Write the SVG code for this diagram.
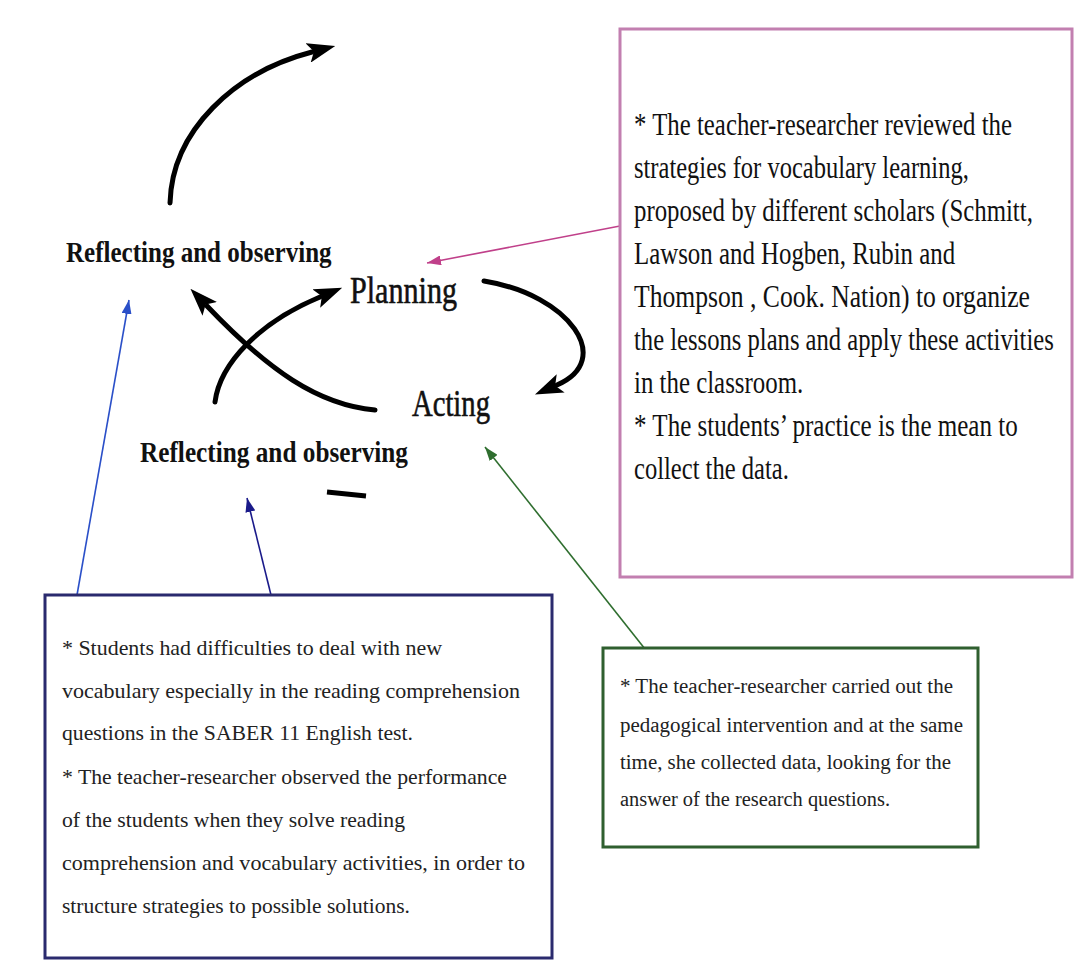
<svg xmlns="http://www.w3.org/2000/svg" width="1074" height="968" viewBox="0 0 1074 968">
<style>
.lbl{font-family:"Liberation Serif","Times New Roman",serif;fill:#111;}
.rb{font-size:30px;font-weight:bold;}
.big{font-size:38px;stroke:#111;stroke-width:0.6;}
.pt{font-family:"Liberation Serif","Times New Roman",serif;font-size:31px;fill:#111;}
.bt{font-family:"Liberation Serif","Times New Roman",serif;font-size:21px;fill:#222;}
.gt{font-family:"Liberation Serif","Times New Roman",serif;font-size:20px;fill:#222;}
.thick{fill:none;stroke:#000;stroke-width:5;stroke-linecap:round;}
.thin{fill:none;stroke-width:1.6;}
</style>
<defs>
<marker id="ah" markerUnits="userSpaceOnUse" viewBox="0 0 28 20" markerWidth="28" markerHeight="20" refX="4" refY="10" orient="auto"><path d="M0,0 L28,10 L0,20 L6,10 z" fill="#000"/></marker>
<marker id="pk" markerUnits="userSpaceOnUse" viewBox="0 0 14 10" markerWidth="14" markerHeight="10" refX="14" refY="5" orient="auto"><path d="M0,0 L14,5 L0,10 z" fill="#c0408a"/></marker>
<marker id="bl" markerUnits="userSpaceOnUse" viewBox="0 0 14 10" markerWidth="14" markerHeight="10" refX="14" refY="5" orient="auto"><path d="M0,0 L14,5 L0,10 z" fill="#2a4fc8"/></marker>
<marker id="nv" markerUnits="userSpaceOnUse" viewBox="0 0 14 10" markerWidth="14" markerHeight="10" refX="14" refY="5" orient="auto"><path d="M0,0 L14,5 L0,10 z" fill="#1a1a8a"/></marker>
<marker id="gr" markerUnits="userSpaceOnUse" viewBox="0 0 14 10" markerWidth="14" markerHeight="10" refX="14" refY="5" orient="auto"><path d="M0,0 L14,5 L0,10 z" fill="#2f6e2f"/></marker>
</defs>
<rect width="1074" height="968" fill="#fff"/>

<g id="connectors">
<path class="thick" d="M170,203 C172,130 235,72 312,52" marker-end="url(#ah)"/>
<path class="thick" d="M484,281 C570,295 615,360 557,385" marker-end="url(#ah)"/>
<path class="thick" d="M215,402 C220,363 260,322 320,297" marker-end="url(#ah)"/>
<path class="thick" d="M375,410 C318,405 268,370 207,306" marker-end="url(#ah)"/>
<path d="M327,492 L366,496" fill="none" stroke="#000" stroke-width="5"/>
<path class="thin" stroke="#c0408a" d="M620,226 L427,263" marker-end="url(#pk)"/>
<path class="thin" stroke="#2a4fc8" d="M77,595 L129,300" marker-end="url(#bl)"/>
<path class="thin" stroke="#1a1a8a" d="M271,595 L247,498" marker-end="url(#nv)"/>
<path class="thin" stroke="#2f6e2f" d="M645,649 L485,447" marker-end="url(#gr)"/>
</g>

<g id="label-reflect-top"><g transform="translate(66 0) scale(0.8 1)"><text class="lbl rb" x="0" y="262" textLength="332" lengthAdjust="spacingAndGlyphs">Reflecting and observing</text></g></g>
<g id="label-planning"><text class="lbl big" x="350" y="303" textLength="107" lengthAdjust="spacingAndGlyphs">Planning</text></g>
<g id="label-acting"><text class="lbl big" x="412" y="416" textLength="78" lengthAdjust="spacingAndGlyphs">Acting</text></g>
<g id="label-reflect-bottom"><g transform="translate(140 0) scale(0.8 1)"><text class="lbl rb" x="0" y="462" textLength="335" lengthAdjust="spacingAndGlyphs">Reflecting and observing</text></g></g>

<g id="box-planning">
<rect x="620" y="29" width="452" height="548" fill="#fff" stroke="#c27fb0" stroke-width="3"/>
<g transform="translate(634 0) scale(0.72 1)">
<text class="pt" x="0" y="135" textLength="525" lengthAdjust="spacingAndGlyphs">* The teacher-researcher reviewed the</text>
<text class="pt" x="0" y="178" textLength="465" lengthAdjust="spacingAndGlyphs">strategies  for vocabulary learning,</text>
<text class="pt" x="0" y="221" textLength="554" lengthAdjust="spacingAndGlyphs">proposed by different  scholars (Schmitt,</text>
<text class="pt" x="0" y="264" textLength="446" lengthAdjust="spacingAndGlyphs">Lawson and Hogben, Rubin and</text>
<text class="pt" x="0" y="307" textLength="550" lengthAdjust="spacingAndGlyphs">Thompson , Cook. Nation)    to organize</text>
<text class="pt" x="0" y="350" textLength="583" lengthAdjust="spacingAndGlyphs">the lessons plans and apply these activities</text>
<text class="pt" x="0" y="393" textLength="235" lengthAdjust="spacingAndGlyphs">in the classroom.</text>
<text class="pt" x="0" y="436" textLength="533" lengthAdjust="spacingAndGlyphs">* The students’ practice is the mean to</text>
<text class="pt" x="0" y="479" textLength="215" lengthAdjust="spacingAndGlyphs">collect the data.</text>
</g>
</g>

<g id="box-reflecting">
<rect x="45" y="595" width="507" height="363" fill="#fff" stroke="#2a2a6e" stroke-width="3"/>
<text class="bt" x="62" y="655" textLength="380" lengthAdjust="spacingAndGlyphs">* Students  had difficulties  to deal with  new</text>
<text class="bt" x="62" y="698" textLength="458" lengthAdjust="spacingAndGlyphs">vocabulary  especially   in the reading  comprehension</text>
<text class="bt" x="62" y="740" textLength="351" lengthAdjust="spacingAndGlyphs">questions  in the  SABER  11 English  test.</text>
<text class="bt" x="62" y="784" textLength="445" lengthAdjust="spacingAndGlyphs">* The  teacher-researcher  observed  the performance</text>
<text class="bt" x="62" y="827" textLength="343" lengthAdjust="spacingAndGlyphs">of the students  when  they  solve  reading</text>
<text class="bt" x="62" y="870" textLength="463" lengthAdjust="spacingAndGlyphs">comprehension  and vocabulary  activities,  in order to</text>
<text class="bt" x="62" y="913" textLength="348" lengthAdjust="spacingAndGlyphs">structure  strategies  to possible  solutions.</text>
</g>

<g id="box-acting">
<rect x="603" y="648" width="375" height="199" fill="#fff" stroke="#2f5f2f" stroke-width="3"/>
<text class="gt" x="620" y="693" textLength="333" lengthAdjust="spacingAndGlyphs">* The teacher-researcher carried out the</text>
<text class="gt" x="620" y="732" textLength="343" lengthAdjust="spacingAndGlyphs">pedagogical  intervention  and at the same</text>
<text class="gt" x="620" y="769" textLength="331" lengthAdjust="spacingAndGlyphs">time,  she collected  data, looking  for the</text>
<text class="gt" x="620" y="806" textLength="270" lengthAdjust="spacingAndGlyphs">answer of the research questions.</text>
</g>
</svg>
